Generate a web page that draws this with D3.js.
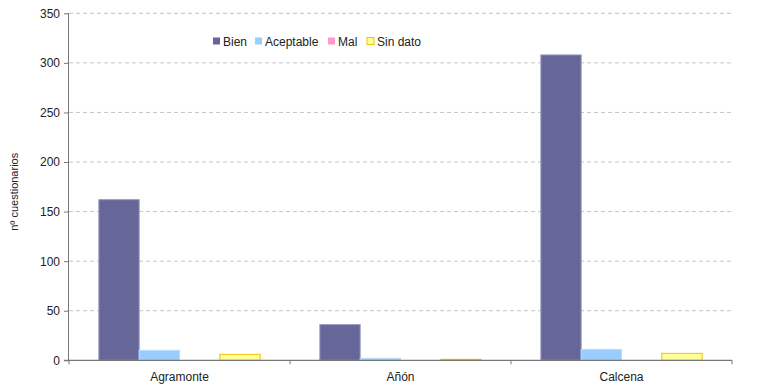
<!DOCTYPE html>
<html><head><meta charset="utf-8">
<script src="https://cdn.jsdelivr.net/npm/d3@7/dist/d3.min.js"></script>
<style>body{margin:0;background:#fff;}svg{display:block;font-family:"Liberation Sans",Arial,sans-serif;}</style>
</head><body>
<svg id="c" width="757" height="387"></svg>
<script>
const categories = ["Agramonte", "Añón", "Calcena"];
const seriesNames = ["Bien", "Aceptable", "Mal", "Sin dato"];
const bien = [162, 36, 308];
const aceptable = [10, 2, 11];
const mal = [0, 0, 0];
const sinDato = [6, 1, 7];
const yTicks = [0, 50, 100, 150, 200, 250, 300, 350];
const yLabel = "nº cuestionarios";

const values = [bien, aceptable, mal, sinDato];
const fills = ["#666699", "#99CCFF", "#FF99CC", "#FFFF99"];
const strokes = ["#9a9ac4", "#b8dcff", "#ffc0dd", "#F2C200"];

const svg = d3.select("#c");
const L = 69, R = 732, T = 13.3, B = 360.3;
const x0 = d3.scaleBand().domain(categories).range([L, R]).paddingInner(0).paddingOuter(0);
const x1 = d3.scaleBand().domain(seriesNames).range([0, x0.bandwidth()]).paddingOuter(0.74).paddingInner(0);
const y = d3.scaleLinear().domain([0, 350]).range([B, T]);

// grid
svg.append("g").selectAll("line").data(yTicks.filter(d => d > 0)).join("line")
  .attr("x1", L).attr("x2", R).attr("y1", d => y(d)).attr("y2", d => y(d))
  .attr("stroke", "#c4c4c4").attr("stroke-width", 1).attr("stroke-dasharray", "4,3");

// bars
const g = svg.append("g");
categories.forEach((c, i) => {
  seriesNames.forEach((s, j) => {
    const v = values[j][i];
    if (v <= 0) return;
    g.append("rect")
      .attr("x", x0(c) + x1(s))
      .attr("y", y(v))
      .attr("width", x1.bandwidth())
      .attr("height", B - y(v))
      .attr("fill", fills[j])
      .attr("stroke", strokes[j]).attr("stroke-width", 1);
  });
});

// y axis
const ya = svg.append("g").attr("transform", `translate(${L},0)`)
  .call(d3.axisLeft(y).tickValues(yTicks).tickSize(5).tickPadding(4));
ya.select(".domain").attr("stroke", "#777").attr("d", `M-0.5,${T}V${B}`);
ya.selectAll(".tick line").attr("stroke", "#777");
ya.selectAll("text").attr("font-size", 12).attr("fill", "#222").attr("font-family", "Liberation Sans, Arial, sans-serif");

// x axis
const xa = svg.append("g").attr("transform", `translate(0,${B})`);
xa.append("line").attr("x1", L - 5).attr("x2", R).attr("y1", 0).attr("y2", 0).attr("stroke", "#777").attr("stroke-width", 1.3);
const bounds = categories.map(c => x0(c)).concat([R]);
xa.selectAll(".bt").data(bounds).join("line").attr("class", "bt")
  .attr("x1", d => d).attr("x2", d => d).attr("y1", 0).attr("y2", 4).attr("stroke", "#777");
xa.selectAll(".lbl").data(categories).join("text").attr("class", "lbl")
  .attr("x", d => x0(d) + x0.bandwidth() / 2).attr("y", 21)
  .attr("text-anchor", "middle").attr("font-size", 12).attr("fill", "#222").text(d => d);

// y label
svg.append("text").attr("transform", `translate(18,${(T + B) / 2 + 5}) rotate(-90)`)
  .attr("text-anchor", "middle").attr("font-size", 11).attr("fill", "#222").text(yLabel);

// legend
const legX = [213, 255, 328, 367];
const lg = svg.append("g");
seriesNames.forEach((s, j) => {
  lg.append("rect").attr("x", legX[j]).attr("y", 37.5).attr("width", 7).attr("height", 7)
    .attr("fill", fills[j]).attr("stroke", j === 3 ? strokes[j] : "none");
  lg.append("text").attr("x", legX[j] + 10).attr("y", 45.5).attr("font-size", 12).attr("fill", "#222").text(s);
});
</script>
</body></html>
